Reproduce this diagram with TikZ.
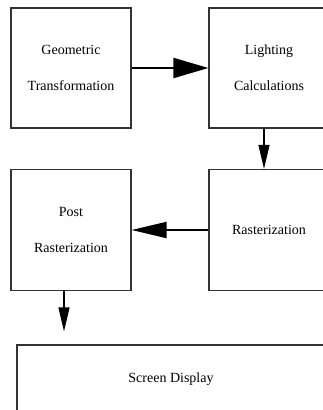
\documentclass[tikz,border=0pt]{standalone}
\usepackage{fontspec}
\setmainfont{Liberation Serif}
\usetikzlibrary{arrows.meta}
\begin{document}
	\begin{tikzpicture}[x=1pt,y=-1pt,
			box/.style={draw=black!80,line width=1.2pt,inner sep=0pt,align=center,
					font=\fontsize{14pt}{36pt}\selectfont},
			hline/.style={line width=2pt,-{Triangle[length=35pt,width=20pt]}},
			vline/.style={line width=1.2pt,-{Triangle[length=24pt,width=11pt]}}]
		\useasboundingbox (0,0) rectangle (322,410);

		\node[box,minimum width=120pt,minimum height=120pt] (geo) at (71,68) {Geometric\\Transformation};
		\node[box,minimum width=120pt,minimum height=120pt] (light) at (269,68) {Lighting\\Calculations};
		\node[box,minimum width=120pt,minimum height=121pt] (post) at (71,230)
			{\fontsize{14pt}{29pt}\selectfont Post\\Rasterization};
		\node[box,minimum width=120pt,minimum height=121pt] (rast) at (269,230) {Rasterization};
		\node[box,minimum width=308pt,minimum height=68pt] (screen) at (171,379) {Screen Display};

		\draw[hline] (geo) -- (light);
		\draw[hline,-{Triangle[length=35pt,width=16pt]}] (rast) -- (post);
		\draw[vline] ([xshift=-5pt]light.south) -- ([xshift=-5pt]rast.north);
		\draw[vline,shorten >=13pt] ([xshift=-7pt]post.south) coordinate (p) -- (p |- screen.north);
	\end{tikzpicture}
\end{document}
